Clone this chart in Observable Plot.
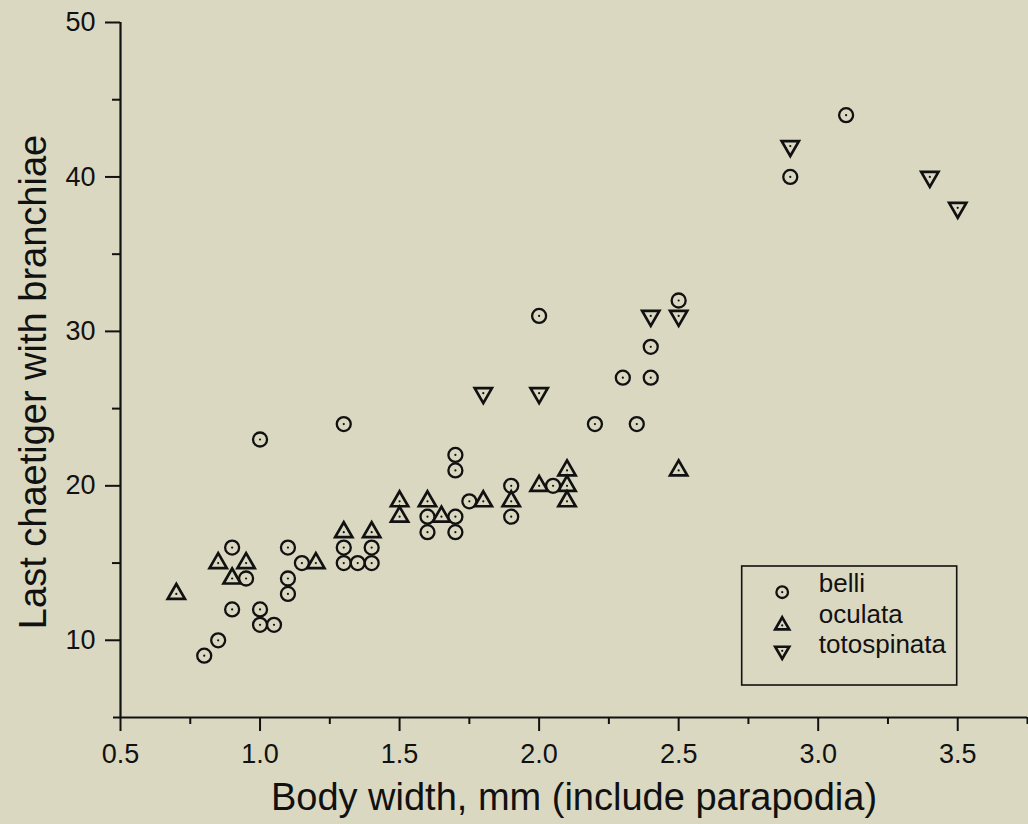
<!DOCTYPE html>
<html>
<head>
<meta charset="utf-8">
<script src="https://cdn.jsdelivr.net/npm/d3@7"></script>
<script src="https://cdn.jsdelivr.net/npm/@observablehq/plot@0.6"></script>
<style>
html, body { margin: 0; padding: 0; background: #dbd8c2; }
#chart svg { display: block; }
</style>
</head>
<body>
<div id="chart"></div>
<script>
// ---- data ----
const belliX = [0.8, 0.85, 0.9, 0.9, 0.95, 1.0, 1.0, 1.0, 1.05, 1.1, 1.1, 1.1, 1.15, 1.3, 1.3, 1.3, 1.35, 1.4, 1.4, 1.6, 1.6, 1.7, 1.7, 1.7, 1.7, 1.75, 1.9, 1.9, 2.0, 2.05, 2.2, 2.3, 2.35, 2.4, 2.4, 2.5, 2.9, 3.1];
const belliY = [9, 10, 12, 16, 14, 23, 12, 11, 11, 16, 14, 13, 15, 24, 16, 15, 15, 16, 15, 18, 17, 22, 21, 18, 17, 19, 20, 18, 31, 20, 24, 27, 24, 29, 27, 32, 40, 44];
const oculataX = [0.7, 0.85, 0.9, 0.95, 1.2, 1.3, 1.4, 1.5, 1.5, 1.6, 1.65, 1.8, 1.9, 2.0, 2.1, 2.1, 2.1, 2.5];
const oculataY = [13, 15, 14, 15, 15, 17, 17, 19, 18, 19, 18, 19, 19, 20, 21, 20, 19, 21];
const totospinataX = [1.8, 2.0, 2.4, 2.5, 2.9, 3.4, 3.5];
const totospinataY = [26, 26, 31, 31, 42, 40, 38];
const speciesNames = ["belli", "oculata", "totospinata"];

const xMajorTicks = [0.5, 1.0, 1.5, 2.0, 2.5, 3.0, 3.5];
const xMinorTicks = [0.75, 1.25, 1.75, 2.25, 2.75, 3.25, 3.75];
const yMajorTicks = [10, 20, 30, 40, 50];
const yMinorTicks = [15, 25, 35, 45];
const xDomain = [0.5, 3.75];
const yDomain = [5, 50];
const xTitle = "Body width, mm (include parapodia)";
const yTitle = "Last chaetiger with branchiae";

// ---- build ----
const ink = "#111111";
const toRows = (xs, ys) => xs.map((x, i) => ({x, y: ys[i]}));
const series = {
  belli: toRows(belliX, belliY),
  oculata: toRows(oculataX, oculataY),
  totospinata: toRows(totospinataX, totospinataY)
};
const s3 = Math.sqrt(3);
const triangleDown = {
  draw(context, size) {
    const y = -Math.sqrt(size / (s3 * 3));
    context.moveTo(0, -y * 2);
    context.lineTo(-s3 * y, y);
    context.lineTo(s3 * y, y);
    context.closePath();
  }
};
const symbolOf = {belli: "circle", oculata: "triangle", totospinata: triangleDown};
const radiusOf = {belli: 7, oculata: 6.4, totospinata: 6.4};
const legendRadiusOf = {belli: 5.8, oculata: 5.2, totospinata: 5.2};
const widthOf = {belli: 2.3, oculata: 2.7, totospinata: 2.7};
const centroidShift = {belli: 0, oculata: 2.6, totospinata: -2.6};

const W = 1028, H = 824;
const M = {left: 120, right: 1, top: 22, bottom: 107};

const marks = [];
// axes lines
marks.push(Plot.ruleX([xDomain[0]], {stroke: ink, strokeWidth: 2.2}));
marks.push(Plot.ruleY([yDomain[0]], {stroke: ink, strokeWidth: 2.2, insetLeft: -7}));
// ticks
marks.push(Plot.axisX(xMajorTicks, {tickSize: 14, tickPadding: 12, tickFormat: d3.format(".1f"), fontSize: 27, stroke: ink, strokeWidth: 2, label: null}));
marks.push(Plot.axisX(xMinorTicks, {tickSize: 7, tickFormat: () => "", stroke: ink, strokeWidth: 2, label: null}));
marks.push(Plot.axisY(yMajorTicks, {tickSize: 15, tickPadding: 10, tickFormat: d3.format("d"), fontSize: 27, stroke: ink, strokeWidth: 2, label: null}));
marks.push(Plot.axisY(yMinorTicks, {tickSize: 8, tickFormat: () => "", stroke: ink, strokeWidth: 2, label: null}));
// titles
marks.push(Plot.text([xTitle], {frameAnchor: "bottom", dy: 92, fontSize: 38, textAnchor: "middle", text: d => d, fill: ink}));
marks.push(Plot.text([yTitle], {frameAnchor: "left", dx: -87, dy: 12, rotate: -90, fontSize: 38, textAnchor: "middle", text: d => d, fill: ink}));
// data points
for (const name of speciesNames) {
  marks.push(Plot.dot(series[name], {x: "x", y: "y", symbol: symbolOf[name], r: radiusOf[name], stroke: ink, strokeWidth: widthOf[name], fill: "none"}));
  marks.push(Plot.dot(series[name], {x: "x", y: "y", r: 1.1, fill: ink, stroke: "none"}));
}
// legend entries
const legendRowTop = -125.3, legendGap = 30.6;
speciesNames.forEach((name, i) => {
  const dyRow = legendRowTop + i * legendGap;
  marks.push(Plot.dot([name], {frameAnchor: "bottom-right", dx: -245.3, dy: dyRow + centroidShift[name], symbol: symbolOf[name], r: legendRadiusOf[name], stroke: ink, strokeWidth: widthOf[name], fill: "none"}));
  marks.push(Plot.dot([name], {frameAnchor: "bottom-right", dx: -245.3, dy: dyRow + centroidShift[name], r: 1.1, fill: ink, stroke: "none"}));
  marks.push(Plot.text([name], {frameAnchor: "bottom-right", dx: -208.7, dy: dyRow, textAnchor: "start", fontSize: 26, text: d => d, fill: ink}));
});

const svg = Plot.plot({
  width: W,
  height: H,
  marginLeft: M.left,
  marginRight: M.right,
  marginTop: M.top,
  marginBottom: M.bottom,
  x: {domain: xDomain, label: null},
  y: {domain: yDomain, label: null},
  style: {background: "#dbd8c2", fontFamily: "'Liberation Sans', Arial, sans-serif", fontSize: "27px", color: ink, overflow: "visible"},
  marks
});

// legend box (layout element, placed relative to the frame's bottom-right)
const frameRight = W - M.right, frameBottom = H - M.bottom;
d3.select(svg).append("rect")
  .attr("x", frameRight - 285.3)
  .attr("y", frameBottom - 151)
  .attr("width", 215)
  .attr("height", 119)
  .attr("fill", "none")
  .attr("stroke", ink)
  .attr("stroke-width", 1.6);

document.getElementById("chart").appendChild(svg);
</script>
</body>
</html>
